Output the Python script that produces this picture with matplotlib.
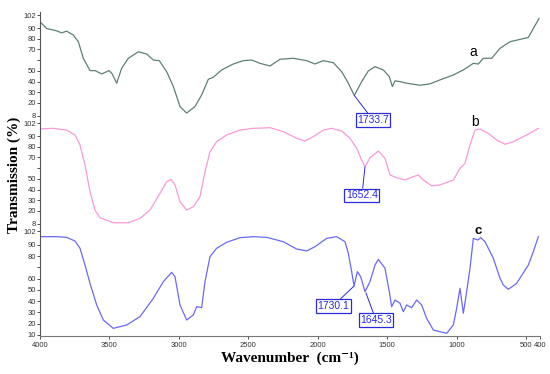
import numpy as np
import matplotlib
matplotlib.use('Agg')
import matplotlib.pyplot as plt

# spectrum a (wavenumber, %T)
wn_a = [4000, 3952, 3880, 3844, 3808, 3760, 3724, 3688, 3640, 3604, 3556, 3503, 3480, 3448, 3412,
        3364, 3292, 3232, 3184, 3141, 3088, 3040, 2992, 2944, 2884, 2836, 2788, 2752, 2692, 2608,
        2536, 2476, 2416, 2344, 2272, 2176, 2080, 2020, 1960, 1888, 1828, 1780, 1737, 1684, 1636,
        1588, 1528, 1485, 1463, 1444, 1408, 1360, 1264, 1192, 1120, 1024, 952, 880, 844, 808,
        748, 688, 616, 544, 484, 448, 407]
t_a = [95.8, 89.6, 87.4, 85.5, 87.1, 83.4, 77.2, 61.7, 50.2, 50.2, 47.1, 50.2, 47.1, 38.4, 52.4,
       61.7, 67.8, 65.7, 60.1, 59.5, 49.2, 35.3, 16.6, 10.5, 16.6, 27.5, 42.1, 44.0, 50.8, 56.4,
       59.5, 60.1, 57.0, 54.5, 60.8, 61.7, 59.5, 56.4, 59.5, 57.6, 49.2, 38.4, 26.9, 39.9, 49.9,
       53.9, 50.8, 44.6, 35.3, 40.6, 39.9, 38.4, 36.5, 37.8, 41.5, 46.1, 50.8, 57.0, 56.4, 61.7,
       61.7, 71.0, 77.2, 79.4, 81.2, 89.6, 98.9]

# spectrum b
wn_b = [4000, 3904, 3808, 3748, 3712, 3676, 3640, 3604, 3568, 3472, 3364, 3280, 3208, 3136, 3088,
        3057, 3028, 2992, 2944, 2896, 2848, 2812, 2776, 2728, 2656, 2560, 2464, 2344, 2248, 2152,
        2092, 2032, 1960, 1900, 1828, 1768, 1720, 1684, 1660, 1624, 1564, 1516, 1480, 1432, 1372,
        1312, 1276, 1240, 1180, 1120, 1024, 976, 940, 904, 868, 832, 772, 712, 652, 592,
        496, 412]
t_b = [96.6, 97.2, 95.6, 91.0, 81.6, 62.9, 37.9, 20.8, 13.6, 8.9, 8.9, 13.0, 20.8, 36.4, 47.3,
       49.5, 44.2, 28.6, 20.8, 23.9, 33.3, 56.6, 75.3, 84.7, 91.0, 95.6, 97.2, 97.8, 94.1, 87.9,
       85.4, 89.4, 95.6, 97.2, 94.7, 87.9, 78.5, 67.6, 61.3, 69.7, 76.0, 69.2, 53.6, 51.0, 48.9,
       52.0, 53.6, 48.9, 43.5, 44.2, 48.9, 59.8, 64.5, 81.6, 95.6, 96.6, 92.5, 86.3, 82.3, 84.7,
       91.0, 97.2]

# spectrum c
wn_c = [4000, 3880, 3808, 3748, 3712, 3676, 3640, 3592, 3544, 3472, 3376, 3280, 3184, 3112, 3052,
        3028, 2992, 2944, 2896, 2872, 2836, 2812, 2776, 2728, 2656, 2560, 2464, 2368, 2248, 2152,
        2080, 2020, 1936, 1864, 1804, 1780, 1756, 1739, 1715, 1691, 1660, 1624, 1588, 1564, 1516,
        1485, 1468, 1444, 1408, 1384, 1360, 1324, 1288, 1252, 1216, 1168, 1120, 1072, 1024, 1000,
        976, 952, 928, 904, 880, 848, 827, 796, 736, 688, 664, 628, 568, 484, 448,
        412]
t_c = [97.3, 97.3, 96.7, 93.4, 87.0, 72.1, 55.8, 36.6, 23.2, 15.8, 18.8, 26.2, 42.5, 57.3, 65.6,
       61.7, 36.6, 23.2, 27.7, 35.1, 34.2, 57.3, 79.5, 87.0, 92.3, 96.4, 97.3, 96.7, 92.8, 86.3,
       84.6, 88.4, 95.8, 97.3, 92.8, 82.5, 66.2, 53.4, 66.2, 61.7, 48.4, 57.3, 72.1, 77.1, 69.2,
       48.4, 35.1, 41.0, 38.1, 30.6, 36.6, 34.2, 41.0, 36.6, 24.7, 14.3, 12.8, 11.4, 18.8, 33.6,
       51.4, 29.2, 48.4, 69.2, 95.8, 94.3, 96.4, 92.8, 78.1, 60.3, 54.3, 50.5, 55.8, 72.1, 83.9,
       97.3]

yticks_ab = [8, 20, 30, 40, 50, 60, 70, 80, 90, 102]
ylabels_ab = ['8', '20', '30', '40', '50', '', '70', '80', '90', '102']
yticks_c = [10, 20, 30, 40, 50, 60, 70, 80, 90, 102]
ylabels_c = ['10', '20', '30', '40', '50', '60', '', '80', '90', '102']
xticks = [4000, 3500, 3000, 2500, 2000, 1500, 1000, 500, 400]

tick_font = ['Liberation Sans Narrow', 'Liberation Sans', 'DejaVu Sans']
blue = '#2b2bd8'

fig = plt.figure(figsize=(5.5, 3.74), dpi=100)
left, width = 40/550, 500/550
h = 108/374
bottoms = [1 - 120/374, 1 - 228/374, 1 - 336/374]

axs = []
for b in bottoms:
    ax = fig.add_axes([left, b, width, h])
    axs.append(ax)
ax_a, ax_b, ax_c = axs

ax_a.plot(wn_a, t_a, color='#5f8075', lw=0.9)
ax_b.plot(wn_b, t_b, color='#f79ad8', lw=0.9)
ax_c.plot(wn_c, t_c, color='#6a6af0', lw=0.9)

for i, ax in enumerate(axs):
    ax.set_xlim(4000, 400)
    for s in ['top', 'right']:
        ax.spines[s].set_visible(False)
    ax.spines['left'].set_color('#555555')
    ax.spines['left'].set_linewidth(0.8)
    ax.tick_params(axis='y', direction='out', length=2, width=0.6, pad=1,
                   labelsize=5.5, colors='#333333')
    if i < 2:
        ax.set_ylim(4, 105)
        ax.set_yticks(yticks_ab)
        ax.set_yticklabels(ylabels_ab, family=tick_font)
        ax.spines['bottom'].set_visible(False)
        ax.set_xticks([])
    else:
        ax.set_ylim(9, 105)
        ax.set_yticks(yticks_c)
        ax.set_yticklabels(ylabels_c, family=tick_font)
        ax.spines['bottom'].set_color('#777777')
        ax.spines['bottom'].set_linewidth(0.8)
        ax.set_xticks(xticks)
        ax.set_xticklabels([str(v) for v in xticks], family=tick_font)
        ax.tick_params(axis='x', direction='out', length=2, width=0.6, pad=2,
                       labelsize=5.5, colors='#333333')
    ax.patch.set_alpha(0)

# curve letters
ax_a.text(882, 67.6, 'a', fontsize=10, ha='center', va='center', family='Liberation Sans')
ax_b.text(868, 103, 'b', fontsize=10, ha='center', va='center', family='Liberation Sans', clip_on=False)
ax_c.text(846, 102.3, 'c', fontsize=9.5, ha='center', va='center', family='Liberation Sans',
          fontweight='bold', clip_on=False)

box = dict(boxstyle='square,pad=0.15', fc='white', ec=blue, lw=0.9)
arrow = dict(arrowstyle='-', color=blue, lw=0.7, shrinkA=0, shrinkB=0)
ann = dict(fontsize=7.5, color=blue, ha='center', va='center', bbox=box, arrowprops=arrow,
           family='Liberation Sans', annotation_clip=False)
ax_a.annotate('1733.7', xy=(1737, 26.9), xytext=(1602, 4), **ann)
ax_b.annotate('1652.4', xy=(1660, 61.3), xytext=(1682, 34.8), **ann)
ax_c.annotate('1730.1', xy=(1739, 53.4), xytext=(1890, 35.7), **ann)
ax_c.annotate('1645.3', xy=(1653, 47.2), xytext=(1581, 23.2), **ann)

fig.text(0.026, 0.532, 'Transmission (%)', rotation=90, ha='center', va='center',
         fontsize=11, fontweight='bold', family=['Liberation Serif', 'DejaVu Serif'])
fig.text(0.527, 0.043, 'Wavenumber  (cm\u207b\u00b9)', ha='center', va='center',
         fontsize=11, fontweight='bold', family=['Liberation Serif', 'DejaVu Serif'])

fig.savefig('out.png', dpi=100)
